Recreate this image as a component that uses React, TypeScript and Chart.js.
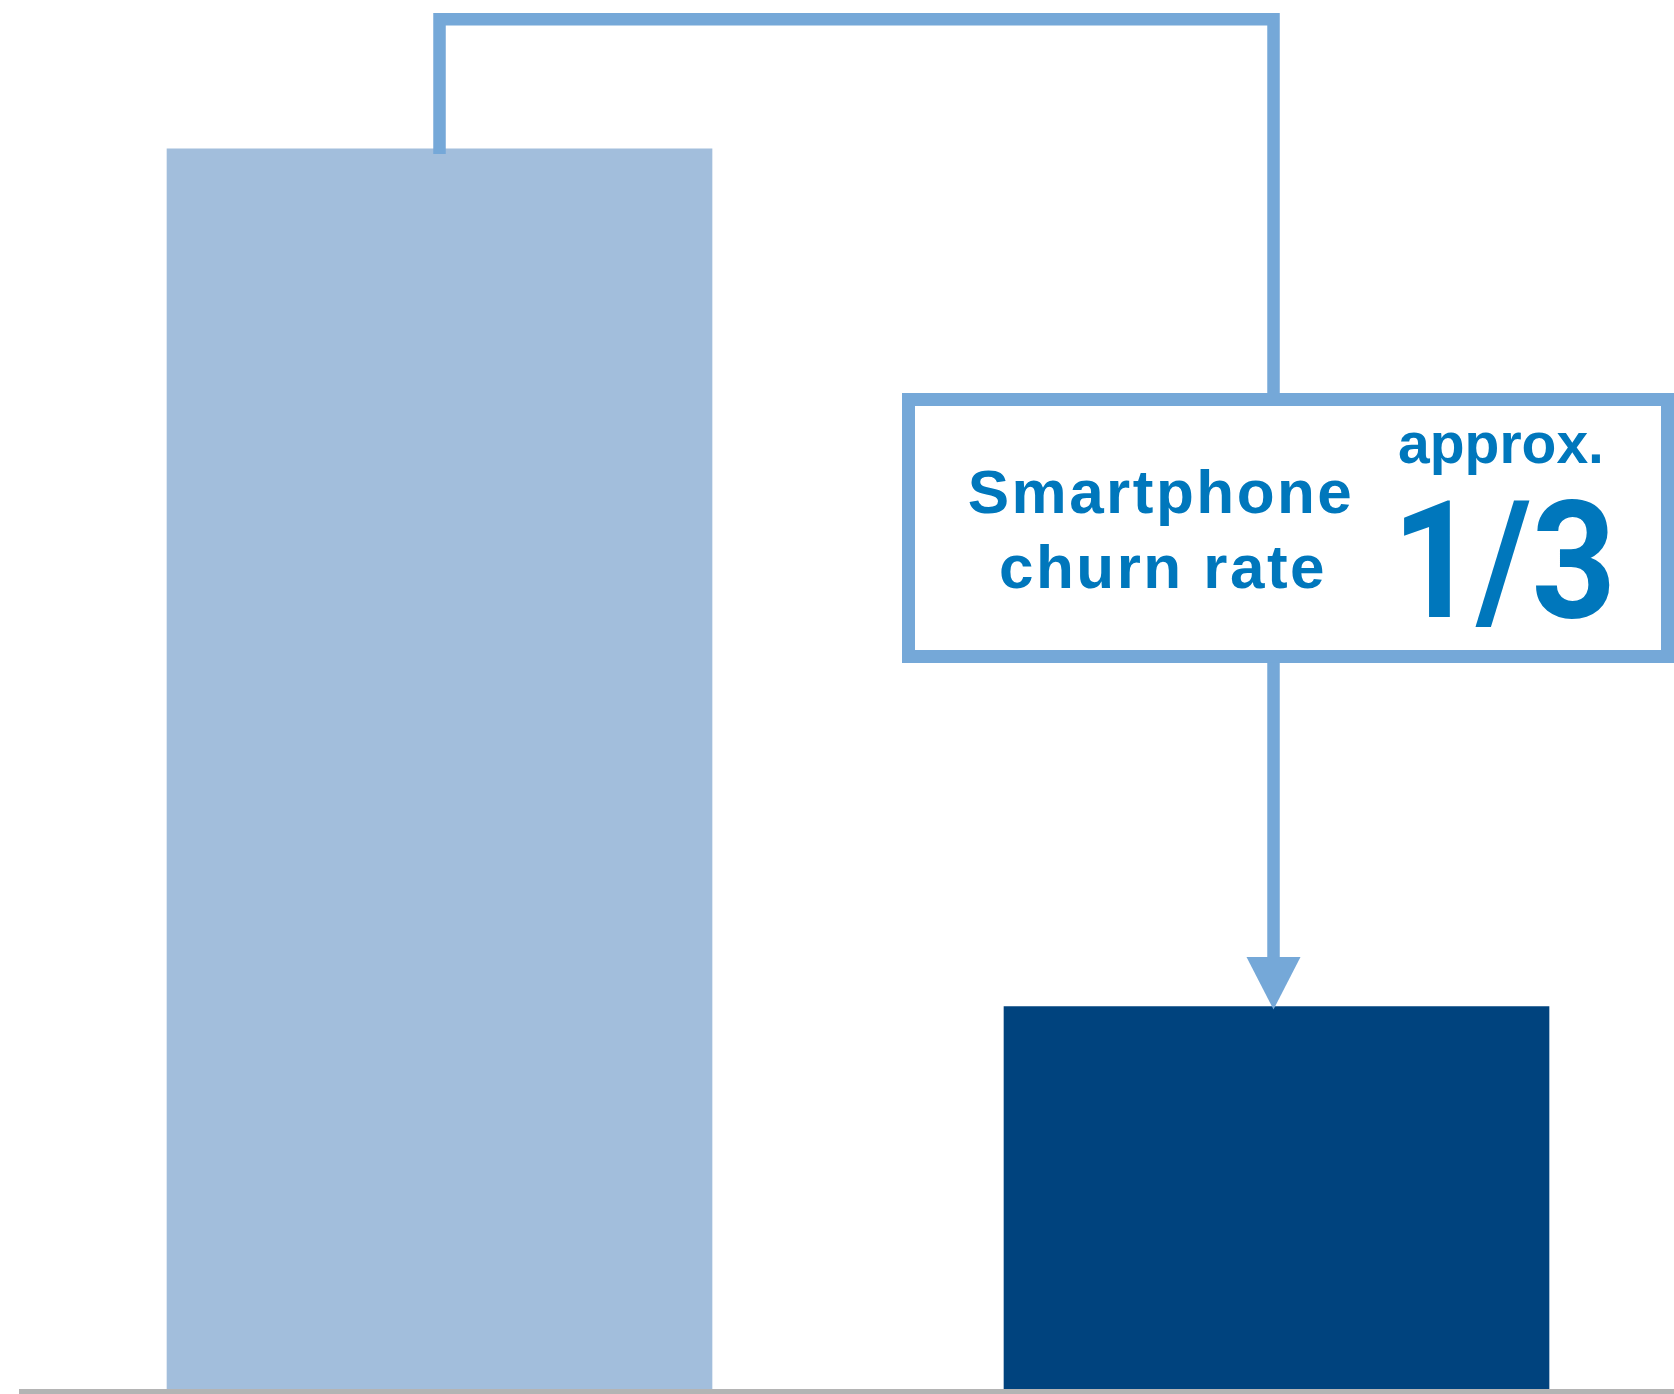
import React, { useEffect, useRef } from "react";
import { Chart, registerables } from "chart.js";

Chart.register(...registerables);

// ---- data ----
const categories = ["All users", "Smartphone churn"];
const categoryPositions = [1, 2];
const values = [100, 30.9];
const barColors = ["#A2BEDC", "#00437E"];
const calloutLines = ["Smartphone", "churn rate"];
const ratioPrefix = "approx.";
const ratioLabel = "1/3";

const LINE_COLOR = "#75A8D8";
const TEXT_COLOR = "#0077BC";
const FONT = '"Liberation Sans", Arial, sans-serif';
const FONT_BIG = 'Roboto, "Liberation Sans", Arial, sans-serif';

const overlayPlugin = {
  id: "overlay",
  afterDatasetsDraw(chart: any) {
    const ctx = chart.ctx as CanvasRenderingContext2D;
    const xs = chart.scales.x;
    const ys = chart.scales.y;
    const area = chart.chartArea;
    const x1 = xs.getPixelForValue(categoryPositions[0]);
    const x2 = xs.getPixelForValue(categoryPositions[1]);
    const top1 = ys.getPixelForValue(values[0]);
    const top2 = ys.getPixelForValue(values[1]);
    const xArrow = x2 - 3;

    ctx.save();
    // baseline
    ctx.fillStyle = "#B4B4B4";
    ctx.fillRect(area.left, area.bottom - 1, area.right - area.left, 5);

    // bracket
    ctx.strokeStyle = LINE_COLOR;
    ctx.lineWidth = 12.5;
    ctx.lineCap = "butt";
    ctx.lineJoin = "miter";
    const bracketY = 19.3;
    const boxL = 908.5, boxR = 1667.5, boxT = 399.5, boxB = 656.5;
    ctx.beginPath();
    ctx.moveTo(x1, top1 + 5);
    ctx.lineTo(x1, bracketY);
    ctx.lineTo(xArrow, bracketY);
    ctx.lineTo(xArrow, boxT);
    ctx.stroke();

    // box
    ctx.fillStyle = "#FFFFFF";
    ctx.fillRect(boxL, boxT, boxR - boxL, boxB - boxT);
    ctx.lineWidth = 13;
    ctx.strokeRect(boxL, boxT, boxR - boxL, boxB - boxT);

    // arrow shaft + head
    const headTop = 957;
    ctx.lineWidth = 12.5;
    ctx.beginPath();
    ctx.moveTo(xArrow, boxB + 6);
    ctx.lineTo(xArrow, headTop + 1);
    ctx.stroke();
    ctx.fillStyle = LINE_COLOR;
    ctx.beginPath();
    ctx.moveTo(xArrow - 27, headTop);
    ctx.lineTo(xArrow + 27, headTop);
    ctx.lineTo(xArrow, top2 + 3);
    ctx.closePath();
    ctx.fill();

    // texts
    ctx.fillStyle = TEXT_COLOR;
    ctx.textAlign = "center";
    ctx.textBaseline = "alphabetic";
    ctx.font = `bold 62px ${FONT}`;
    (ctx as any).letterSpacing = "2.5px";
    ctx.fillText(calloutLines[0], 1161, 513);
    ctx.fillText(calloutLines[1], 1163, 588);
    (ctx as any).letterSpacing = "0px";
    ctx.font = `bold 57px ${FONT}`;
    ctx.fillText(ratioPrefix, 1501, 463);
    ctx.save();
    ctx.translate(1504, 617);
    ctx.scale(0.9, 1);
    ctx.font = `bold 164px ${FONT_BIG}`;
    ctx.fillText(ratioLabel, 0, 0);
    ctx.restore();
    ctx.restore();
  },
};

export default function App() {
  const ref = useRef<HTMLCanvasElement | null>(null);

  useEffect(() => {
    if (!ref.current) return;
    const chart = new Chart(ref.current, {
      type: "bar",
      data: {
        labels: categories,
        datasets: [
          {
            data: categoryPositions.map((p, i) => ({ x: p, y: values[i] })) as any,
            backgroundColor: barColors,
            borderWidth: 0,
            barThickness: 545,
          },
        ],
      },
      options: {
        responsive: false,
        animation: false,
        layout: { padding: { left: 19, right: 0, top: 0, bottom: 4 } },
        plugins: { legend: { display: false }, tooltip: { enabled: false } },
        scales: {
          x: { type: "linear", offset: false, min: 0.4976, max: 2.4749, display: false },
          y: { min: 0, max: 112, display: false },
        },
      },
      plugins: [overlayPlugin],
    });
    let alive = true;
    if ((document as any).fonts) {
      Promise.all([
        (document as any).fonts.load('bold 62px "Liberation Sans"'),
        (document as any).fonts.load('bold 164px Roboto'),
      ]).then(() => {
        if (alive) chart.update();
      }).catch(() => {});
    }
    return () => {
      alive = false;
      chart.destroy();
    };
  }, []);

  return (
    <div style={{ position: "fixed", left: 0, top: 0, width: 1674, height: 1394, background: "#FFFFFF" }}>
      <canvas ref={ref} width={1674} height={1394} style={{ display: "block" }} />
    </div>
  );
}
